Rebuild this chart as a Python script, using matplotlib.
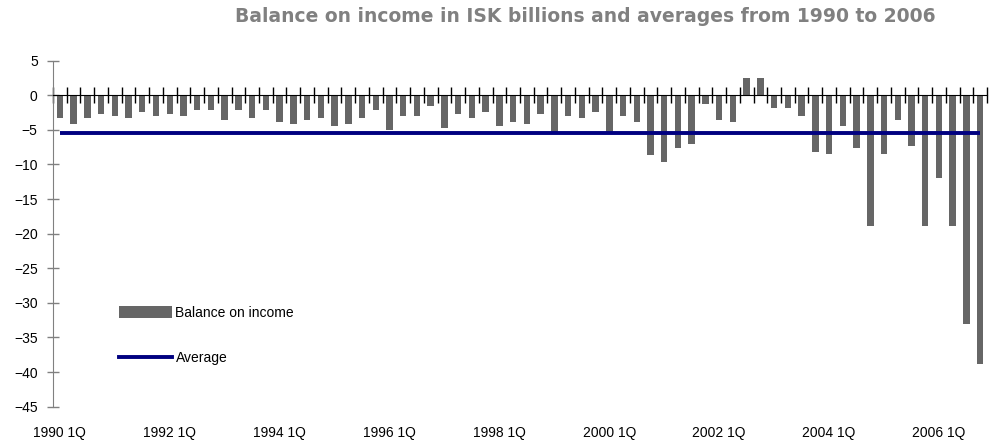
import matplotlib
matplotlib.use("Agg")
import matplotlib.pyplot as plt
from matplotlib.patches import Patch
from matplotlib.lines import Line2D

plt.rcParams['font.family'] = ['Liberation Sans', 'DejaVu Sans']

# quarterly balance on income, ISK billions, 1990 Q1 - 2006 Q4
quarters = [f"{y} {q}Q" for y in range(1990, 2007) for q in range(1, 5)]
balance = [
    -3.3, -4.1, -3.3, -2.7, -3.0, -3.3, -2.4, -3.0,   # 1990-1991
    -2.7, -3.0, -2.1, -2.1, -3.5, -2.1, -3.3, -2.1,   # 1992-1993
    -3.8, -4.1, -3.5, -3.3, -4.4, -4.1, -3.3, -2.1,   # 1994-1995
    -5.0, -3.0, -3.0, -1.5, -4.7, -2.7, -3.3, -2.4,   # 1996-1997
    -4.4, -3.8, -4.1, -2.7, -5.4, -3.0, -3.3, -2.4,   # 1998-1999
    -5.4, -3.0, -3.8, -8.7, -9.6, -7.6, -7.0, -1.2,   # 2000-2001
    -3.5, -3.8, 2.5, 2.5, -1.8, -1.8, -3.0, -8.2,     # 2002-2003
    -8.5, -4.4, -7.6, -18.9, -8.5, -3.5, -7.3, -18.9, # 2004-2005
    -11.9, -18.9, -33.1, -38.9,                       # 2006
]
average = -5.5

label_every = 8
yticks = list(range(-45, 6, 5))

fig = plt.figure(figsize=(9.92, 4.43), dpi=100)
ax = fig.add_axes([0.0534, 0.082, 0.9416, 0.781])

x = list(range(len(quarters)))
ax.bar(x, balance, width=0.47, color='#666666', zorder=2)
ax.plot(x, [average] * len(x), color='#000080', linewidth=2.8,
        solid_capstyle='butt', zorder=3)

ax.set_xlim(-0.5, len(quarters) - 0.5)
ax.set_ylim(-45, 5)
ax.set_yticks(yticks)
ax.tick_params(axis='y', direction='inout', length=8, width=1, color='#808080',
               labelsize=10, pad=7)

# category tick marks sit on the zero line, labels go along the bottom
ax.spines['bottom'].set_position(('data', 0))
ax.spines['bottom'].set_color('black')
ax.spines['left'].set_color('#808080')
ax.spines['top'].set_visible(False)
ax.spines['right'].set_visible(False)
ax.set_xticks([i - 0.5 for i in range(len(quarters) + 1)])
ax.set_xticklabels([])
ax.tick_params(axis='x', direction='inout', length=12, width=1, color='black')

for i in range(0, len(quarters), label_every):
    ax.annotate(quarters[i], xy=(i, 0), xycoords=('data', 'axes fraction'),
                xytext=(0, -26), textcoords='offset pixels',
                ha='center', va='center', fontsize=10)

fig.suptitle('Balance on income in ISK billions and averages from 1990 to 2006',
             x=0.59, y=0.985, fontsize=13.5, fontweight='bold', color='#808080',
             family='DejaVu Sans')

handles = [Patch(facecolor='#666666', edgecolor='none'),
           Line2D([0], [0], color='#000080', linewidth=2.8)]
ax.legend(handles, ['Balance on income', 'Average'], loc='upper left',
          bbox_to_anchor=(0.065, 0.307), frameon=False, fontsize=10,
          handlelength=3.8, handleheight=0.95, handletextpad=0.25,
          labelspacing=2.25, borderaxespad=0)

fig.savefig('out.png', dpi=100)
